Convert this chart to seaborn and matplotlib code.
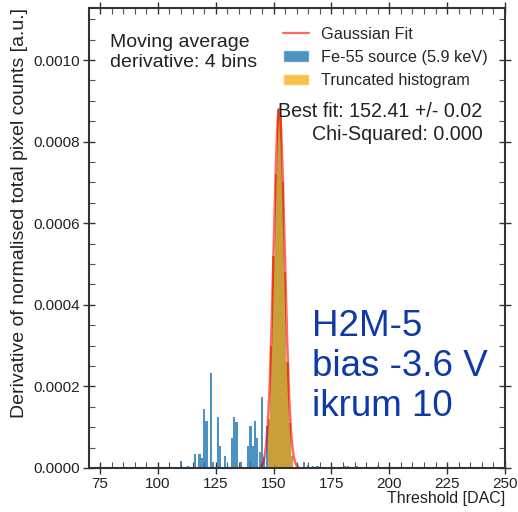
import numpy as np
import pandas as pd
import matplotlib
matplotlib.use("Agg")
import matplotlib.pyplot as plt
from matplotlib.ticker import MultipleLocator, FormatStrFormatter
from matplotlib.patches import Patch
from matplotlib.lines import Line2D
import seaborn as sns

# ---- data ----
blue_x = [110, 113, 116, 118, 119, 120, 121, 123, 124, 126, 127, 129,
          132, 133, 134, 136, 139, 140, 141, 142, 143, 144, 145, 146, 147,
          148, 149, 150, 151, 152, 153, 154, 155, 156, 157, 158,
          163, 165, 167, 169, 181, 182, 186, 195]
blue_y = [0.000016, 0.000005, 0.000034, 0.000034, 0.000025, 0.000144, 0.000116,
          0.000234, 0.000015, 0.000124, 0.000054, 0.000030,
          0.000073, 0.000124, 0.000113, 0.000015, 0.000054, 0.000103, 0.000054,
          0.000115, 0.000073, 0.000040, 0.000175, 0.000028, 0.000103,
          0.00012, 0.00030, 0.00052, 0.00072, 0.00088, 0.00086, 0.00070,
          0.00048, 0.00026, 0.00011, 0.00003,
          0.000015, 0.000007, 0.000006, 0.000006, 0.000006, 0.000006,
          0.000005, 0.000005]
trunc_x = [148, 149, 150, 151, 152, 153, 154, 155, 156, 157, 158]
trunc_y = [0.00012, 0.00030, 0.00052, 0.00072, 0.00088, 0.00086, 0.00070,
           0.00048, 0.00026, 0.00011, 0.00003]

fit_mu = 152.41
fit_amp = 0.00088
fit_sigma = 2.4
fit_range = (144.5, 160.5)

xticks = [75, 100, 125, 150, 175, 200, 225, 250]
yticks = [0.0, 0.0002, 0.0004, 0.0006, 0.0008, 0.0010]

# ---- style ----
sns.set_style("ticks")
plt.rcParams['font.family'] = ['Liberation Sans', 'DejaVu Sans']

fig = plt.figure(figsize=(5.18, 5.12), dpi=100)
ax = fig.add_axes([0.172, 0.086, 0.803, 0.898])

df_b = pd.DataFrame({"x": blue_x, "w": blue_y})
df_t = pd.DataFrame({"x": trunc_x, "w": trunc_y})

sns.histplot(data=df_b, x="x", weights="w", discrete=True, shrink=0.95,
             color="#1f77b4", alpha=0.8, linewidth=0, ax=ax)
sns.histplot(data=df_t, x="x", weights="w", discrete=True, shrink=1.0,
             color="orange", alpha=0.7, linewidth=0, ax=ax)

gx = np.linspace(fit_range[0], fit_range[1], 300)
gy = fit_amp * np.exp(-0.5 * ((gx - fit_mu) / fit_sigma) ** 2)
sns.lineplot(x=gx, y=gy, color="red", alpha=0.6, linewidth=1.8, ax=ax)

ax.set_xlim(70.3, 250)
ax.set_ylim(0, 0.001127)
ax.set_xticks(xticks)
ax.set_yticks(yticks)
ax.yaxis.set_major_formatter(FormatStrFormatter('%.4f'))
ax.xaxis.set_minor_locator(MultipleLocator(5))
ax.yaxis.set_minor_locator(MultipleLocator(0.00005))
ax.tick_params(which='major', direction='inout', length=9, width=1.0,
               top=True, right=True, labelsize=11, colors='#333333',
               labelcolor='#222222', pad=2)
ax.tick_params(which='minor', direction='in', length=4, width=0.8,
               top=True, right=True, colors='#555555')
for s in ax.spines.values():
    s.set_linewidth(1.5)
    s.set_color('#333333')

ax.set_xlabel("Threshold [DAC]", loc='right', fontsize=11.5, color='#222222',
              labelpad=0)
ax.set_ylabel("Derivative of normalised total pixel counts [a.u.]", loc='top',
              fontsize=14, color='#222222', labelpad=4)

ax.text(0.05, 0.944, "Moving average\nderivative: 4 bins", transform=ax.transAxes,
        fontsize=14, va='top', ha='left', linespacing=1.25, color='#222222')
ax.text(0.946, 0.797, "Best fit: 152.41 +/- 0.02\nChi-Squared: 0.000",
        transform=ax.transAxes, fontsize=14.1, va='top', ha='right',
        multialignment='right', linespacing=1.3, color='#222222')
ax.text(0.537, 0.345, "H2M-5\nbias -3.6 V\nikrum 10", transform=ax.transAxes,
        fontsize=26.5, va='top', ha='left', linespacing=1.17, color='#0d3aa6')

handles = [Line2D([0], [0], color='red', alpha=0.6, lw=1.6),
           Patch(facecolor='#1f77b4', alpha=0.8),
           Patch(facecolor='orange', alpha=0.7)]
labels = ["Gaussian Fit", "Fe-55 source (5.9 keV)", "Truncated histogram"]
ax.legend(handles, labels, loc='upper left', bbox_to_anchor=(0.45, 0.974),
          frameon=False, fontsize=11.7, handlelength=1.6, handletextpad=0.75,
          labelspacing=0.5, borderaxespad=0)

fig.savefig("out.png", dpi=100)
